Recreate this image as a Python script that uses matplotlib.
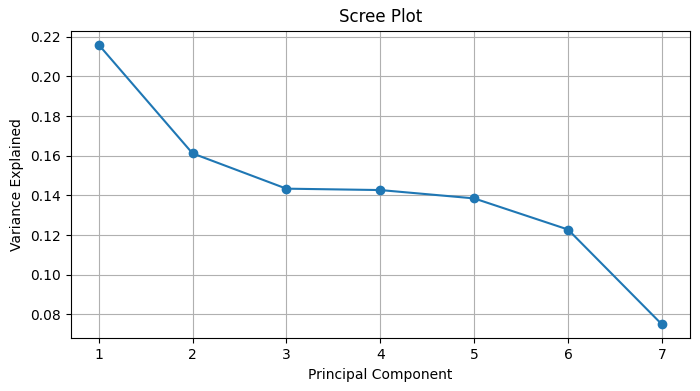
import numpy as np
import matplotlib.pyplot as plt

components = [1, 2, 3, 4, 5, 6, 7]
variance = [0.2160, 0.1612, 0.1434, 0.1427, 0.1385, 0.1228, 0.0750]

fig = plt.figure(figsize=(7, 3.91), dpi=100)
ax = fig.add_axes([70.5 / 700, 1 - 338.3 / 391, (690 - 70.5) / 700, (338.3 - 30.7) / 391])
ax.plot(components, variance, marker='o')
ax.set_title('Scree Plot')
ax.set_xlabel('Principal Component')
ax.set_ylabel('Variance Explained')
ax.set_xticks(components)
ax.grid(True)
fig.savefig('out.png', dpi=100)
